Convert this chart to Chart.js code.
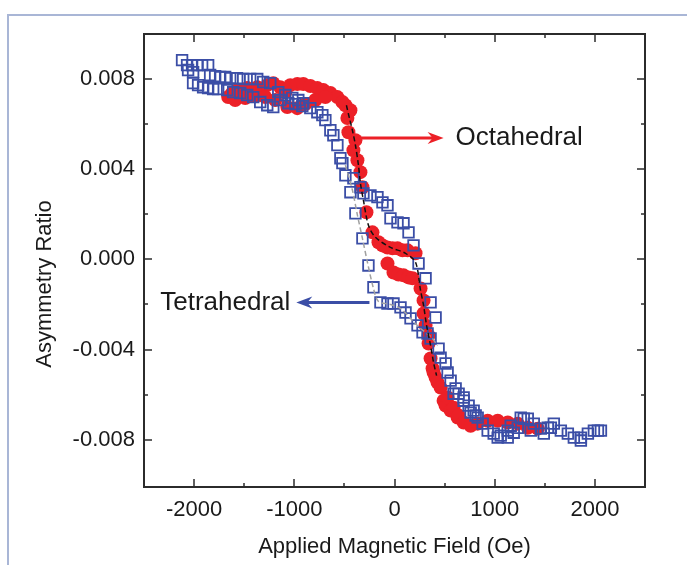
<!DOCTYPE html>
<html>
<head>
<meta charset="utf-8">
<script src="https://cdn.jsdelivr.net/npm/chart.js@4.4.0/dist/chart.umd.min.js"></script>
<style>
  html, body { margin: 0; padding: 0; background: #fff; }
  #wrap { position: relative; width: 687px; height: 565px; overflow: hidden; }
  #myChart { display: block; }
  #frame { position: absolute; left: 7px; top: 14px; right: -4px; bottom: -4px;
           border-top: 2px solid #a9b6d6; border-left: 2px solid #a9b6d6; pointer-events: none; }
</style>
</head>
<body>
<div id="wrap">
  <canvas id="myChart" width="687" height="565"></canvas>
  <div id="frame"></div>
</div>
<script>
// octahedral site (red filled circles)
const octaField = [-1660, -1620, -1570, -1520, -1470, -1420, -1370, -1320, -1270, -1210, -1140, -1090, -1040, -970, -910, -840, -770, -710, -640, -570, -520, -490, -470, -440,
  -1590, -1490, -1390, -1290, -1190, -1070, -970, -890, -790, -690,
  -460, -390, -410, -370, -340, -320, -280, -220, -160, -120, -70, -20, 30, 80, 130, 210,
  -70, -10, 40, 90, 140, 180, 260, 290, 290, 310, 340, 340, 360, 380, 390, 410, 430, 460, 490, 510, 530, 560, 590, 630, 640, 690, 760, 830, 930, 1030, 1130, 1230, 1330, 1430];
const octaRatio = [0.00720, 0.00738, 0.00751, 0.00742, 0.00760, 0.00729, 0.00764, 0.00742, 0.00773, 0.00782, 0.00764, 0.00742, 0.00773, 0.00778, 0.00778, 0.00769, 0.00760, 0.00751, 0.00738, 0.00720, 0.00698, 0.00684, 0.00627, 0.00662,
  0.00707, 0.00716, 0.00724, 0.00720, 0.00707, 0.00676, 0.00671, 0.00689, 0.00707, 0.00720,
  0.00564, 0.00529, 0.00484, 0.00440, 0.00387, 0.00320, 0.00209, 0.00120, 0.00076, 0.00062, 0.00053, 0.00049, 0.00049, 0.00040, 0.00040, 0.00027,
  -0.00018, -0.00058, -0.00067, -0.00071, -0.00080, -0.00084, -0.00129, -0.00182, -0.00240, -0.00293, -0.00338, -0.00373, -0.00440, -0.00484, -0.00502, -0.00524, -0.00547, -0.00569, -0.00627, -0.00649, -0.00613, -0.00671, -0.00658, -0.00702, -0.00693, -0.00724, -0.00738, -0.00729, -0.00716, -0.00716, -0.00724, -0.00729, -0.00747, -0.00751];

// tetrahedral site (blue open squares)
const tetraField = [-2120, -2070, -2020, -1970, -1920, -1860, -2060, -2010, -1840, -1790, -1740, -1690, -1640, -1570, -1510, -1440, -1370, -1310, -1240,
  -2010, -1960, -1910, -1860, -1810, -1760, -1670, -1610, -1540, -1470, -1410, -1340, -1270, -1210,
  -1160, -1090, -1020, -960, -910, -1140, -1060, -990, -920, -840, -770, -720, -690, -640, -610, -570, -540, -520, -490, -410, -440,
  -340, -310, -240, -170, -120, -70, -40, 30, 90, 140, 190, 240, 310, 360, 410,
  -390, -320, -260, -210, -140, -70, -10, 60, 110, 160, 230, 280, 330, 360,
  440, 460, 510, 530, 560, 590, 610, 640, 690, 690, 740, 760, 790, 810, 830, 880, 930, 990, 1030, 1060, 1130, 1130, 1160, 1190, 1230, 1260, 1290, 1330, 1360, 1390, 1460, 1490, 1530, 1560, 1590, 1660, 1730, 1790, 1860, 1860, 1930, 1990, 2030, 2060];
const tetraRatio = [0.00884, 0.00862, 0.00862, 0.00862, 0.00862, 0.00862, 0.00840, 0.00831, 0.00818, 0.00813, 0.00809, 0.00809, 0.00804, 0.00804, 0.00800, 0.00800, 0.00800, 0.00787, 0.00782,
  0.00782, 0.00773, 0.00764, 0.00760, 0.00756, 0.00756, 0.00751, 0.00742, 0.00738, 0.00729, 0.00720, 0.00698, 0.00684, 0.00676,
  0.00742, 0.00729, 0.00716, 0.00707, 0.00693, 0.00707, 0.00693, 0.00689, 0.00680, 0.00671, 0.00653, 0.00640, 0.00618, 0.00573, 0.00551, 0.00507, 0.00449, 0.00427, 0.00373, 0.00360, 0.00298,
  0.00320, 0.00293, 0.00284, 0.00276, 0.00253, 0.00240, 0.00182, 0.00164, 0.00160, 0.00120, 0.00062, -0.00018, -0.00084, -0.00191, -0.00258,
  0.00204, 0.00093, -0.00027, -0.00124, -0.00191, -0.00196, -0.00196, -0.00213, -0.00236, -0.00262, -0.00293, -0.00324, -0.00329, -0.00351,
  -0.00396, -0.00436, -0.00462, -0.00502, -0.00538, -0.00596, -0.00573, -0.00596, -0.00627, -0.00613, -0.00649, -0.00680, -0.00671, -0.00693, -0.00702, -0.00729, -0.00760, -0.00773, -0.00791, -0.00782, -0.00791, -0.00760, -0.00738, -0.00769, -0.00747, -0.00702, -0.00707, -0.00707, -0.00760, -0.00729, -0.00751, -0.00773, -0.00747, -0.00747, -0.00729, -0.00760, -0.00773, -0.00791, -0.00791, -0.00804, -0.00773, -0.00760, -0.00760, -0.00760];

// dashed guide curves
const octaFitField = [-480, -450, -420, -390, -360, -340, -310, -260, -190, -40, 110, 210, 260, 290, 320, 360, 390, 420];
const octaFitRatio = [0.00684, 0.00627, 0.00573, 0.00507, 0.00418, 0.00338, 0.00262, 0.00151, 0.00098, 0.00053, 0.00027, -0.00013, -0.00138, -0.00204, -0.00293, -0.00382, -0.00458, -0.00516];
const tetraFitField = [-490, -420, -370, -320, -270, -210, -160, -40, 60, 160, 260, 360, 430];
const tetraFitRatio = [0.00418, 0.00307, 0.00196, 0.00093, -0.00013, -0.00129, -0.00187, -0.00200, -0.00218, -0.00262, -0.00307, -0.00342, -0.00382];

const xTicks = [-2000, -1000, 0, 1000, 2000];
const xMinorTicks = [-1500, -500, 500, 1500];
const yTicks = [-0.008, -0.004, 0, 0.004, 0.008];
const yMinorTicks = [-0.006, -0.002, 0.002, 0.006];

const octaNote = { text: 'Octahedral', arrowFrom: [-360, 0.00538], arrowTo: [490, 0.00538], textAt: [610, 0.00538] };
const tetraNote = { text: 'Tetrahedral', arrowFrom: [-250, -0.00191], arrowTo: [-980, -0.00191], textAt: [-1040, -0.00191] };

const toPoints = (xs, ys) => xs.map((x, i) => ({ x: x, y: ys[i] }));
const FONT = '"Liberation Sans", Arial, Helvetica, sans-serif';
const red = '#ec2027';
const blue = '#3b4ea6';

const arrow = function(ctx, x0, y0, x1, y1, color) {
  const dir = Math.sign(x1 - x0);
  ctx.strokeStyle = color;
  ctx.fillStyle = color;
  ctx.lineWidth = 3;
  ctx.beginPath();
  ctx.moveTo(x0, y0);
  ctx.lineTo(x1 - dir * 8, y1);
  ctx.stroke();
  ctx.beginPath();
  ctx.moveTo(x1, y1);
  ctx.lineTo(x1 - dir * 16, y1 - 6);
  ctx.lineTo(x1 - dir * 11, y1);
  ctx.lineTo(x1 - dir * 16, y1 + 6);
  ctx.closePath();
  ctx.fill();
}

// box, inward ticks on all four sides, notes and y title
const decor = {
  id: 'decor',
  afterDraw(chart) {
    const { ctx, chartArea: a, scales: { x, y } } = chart;
    ctx.save();
    ctx.strokeStyle = '#2b2b2b';
    ctx.lineWidth = 1.5;
    const seg = (x0, y0, x1, y1) => { ctx.beginPath(); ctx.moveTo(x0, y0); ctx.lineTo(x1, y1); ctx.stroke(); };
    const xt = (v, len) => { const p = Math.round(x.getPixelForValue(v)); seg(p, a.bottom, p, a.bottom - len); seg(p, a.top, p, a.top + len); };
    const yt = (v, len) => { const p = Math.round(y.getPixelForValue(v)); seg(a.left, p, a.left + len, p); seg(a.right, p, a.right - len, p); };
    xTicks.forEach(v => xt(v, 8));
    xMinorTicks.forEach(v => xt(v, 4));
    yTicks.forEach(v => yt(v, 8));
    yMinorTicks.forEach(v => yt(v, 4));
    ctx.lineWidth = 2;
    ctx.strokeRect(a.left, a.top, a.right - a.left, a.bottom - a.top);

    arrow(ctx, x.getPixelForValue(octaNote.arrowFrom[0]), y.getPixelForValue(octaNote.arrowFrom[1]),
      x.getPixelForValue(octaNote.arrowTo[0]), y.getPixelForValue(octaNote.arrowTo[1]), red);
    arrow(ctx, x.getPixelForValue(tetraNote.arrowFrom[0]), y.getPixelForValue(tetraNote.arrowFrom[1]),
      x.getPixelForValue(tetraNote.arrowTo[0]), y.getPixelForValue(tetraNote.arrowTo[1]), blue);

    ctx.fillStyle = '#1a1a1a';
    ctx.font = '26px ' + FONT;
    ctx.textBaseline = 'middle';
    ctx.textAlign = 'left';
    ctx.fillText(octaNote.text, x.getPixelForValue(octaNote.textAt[0]), y.getPixelForValue(octaNote.textAt[1]));
    ctx.textAlign = 'right';
    ctx.fillText(tetraNote.text, x.getPixelForValue(tetraNote.textAt[0]), y.getPixelForValue(tetraNote.textAt[1]));

    ctx.font = '22px ' + FONT;
    ctx.textAlign = 'center';
    ctx.translate(45, 284);
    ctx.rotate(-Math.PI / 2);
    ctx.fillText('Asymmetry Ratio', 0, 0);
    ctx.restore();
  }
};

const ctx = document.getElementById('myChart').getContext('2d');
const myChart = new Chart(ctx, {
  type: 'scatter',
  data: {
    datasets: [{
      label: 'octa fit',
      type: 'line',
      data: toPoints(octaFitField, octaFitRatio),
      borderColor: '#111',
      borderWidth: 1.5,
      borderDash: [5, 3],
      pointRadius: 0,
      tension: 0.3,
      fill: false,
      order: 0
    }, {
      label: 'tetra fit',
      type: 'line',
      data: toPoints(tetraFitField, tetraFitRatio),
      borderColor: '#a0a0a0',
      borderWidth: 1.5,
      borderDash: [5, 3],
      pointRadius: 0,
      tension: 0.3,
      fill: false,
      order: 0
    }, {
      label: 'Tetrahedral',
      data: toPoints(tetraField, tetraRatio),
      pointStyle: 'rect',
      pointRadius: 7.5,
      borderColor: blue,
      backgroundColor: 'rgba(255,255,255,0)',
      borderWidth: 1.8,
      order: 1
    }, {
      label: 'Octahedral',
      data: toPoints(octaField, octaRatio),
      pointStyle: 'circle',
      pointRadius: 7,
      borderWidth: 0,
      backgroundColor: red,
      order: 2
    }]
  },
  options: {
    responsive: false,
    animation: false,
    layout: { padding: { left: 0, top: 34, right: 42, bottom: 0 } },
    plugins: { legend: { display: false }, tooltip: { enabled: false } },
    scales: {
      x: {
        type: 'linear',
        min: -2500,
        max: 2500,
        grid: { display: false, drawTicks: false },
        border: { display: false },
        afterBuildTicks: s => { s.ticks = xTicks.map(v => ({ value: v })); },
        ticks: {
          padding: 10,
          maxRotation: 0,
          color: '#1a1a1a',
          font: { family: FONT, size: 22 },
          callback: v => String(v)
        },
        title: {
          display: true,
          text: 'Applied Magnetic Field (Oe)',
          color: '#1a1a1a',
          font: { family: FONT, size: 22 },
          padding: { top: 0, bottom: 5 }
        },
        afterFit: s => { s.height = 78; }
      },
      y: {
        type: 'linear',
        min: -0.0101,
        max: 0.0100,
        grid: { display: false, drawTicks: false },
        border: { display: false },
        afterBuildTicks: s => { s.ticks = yTicks.map(v => ({ value: v })); },
        ticks: {
          padding: 9,
          color: '#1a1a1a',
          font: { family: FONT, size: 22 },
          callback: v => (Math.abs(v) < 1e-9 ? 0 : v).toFixed(3)
        },
        afterFit: s => { s.width = 144; }
      }
    }
  },
  plugins: [decor]
});
</script>
</body>
</html>
